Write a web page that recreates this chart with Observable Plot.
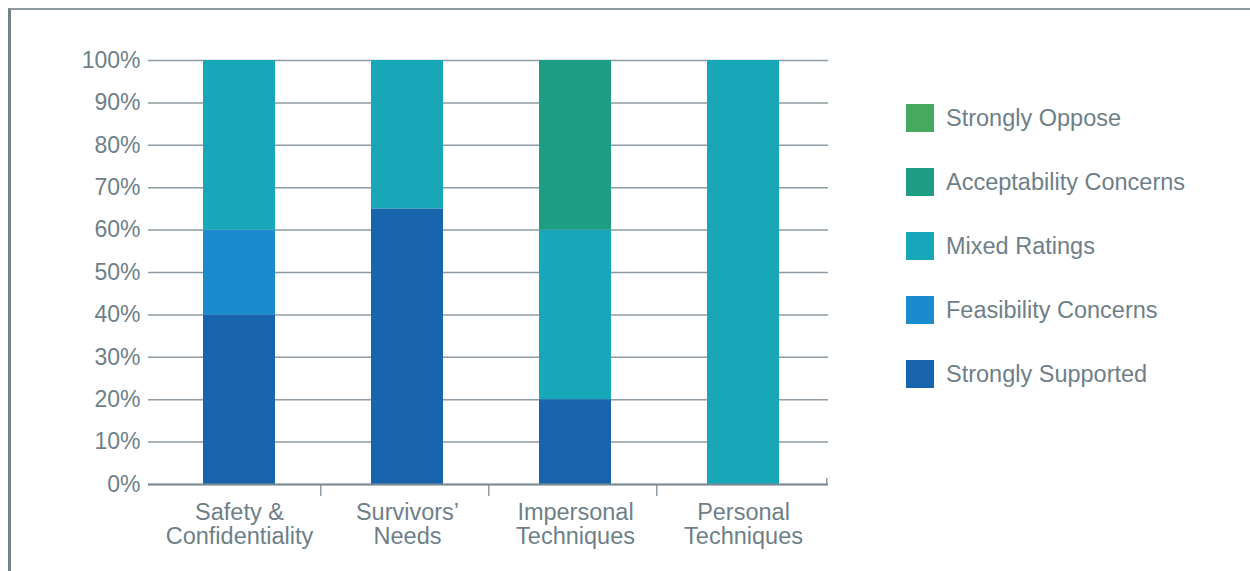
<!DOCTYPE html>
<html>
<head>
<meta charset="utf-8">
<script src="https://cdn.jsdelivr.net/npm/d3@7"></script>
<script src="https://cdn.jsdelivr.net/npm/@observablehq/plot@0.6"></script>
<style>
  html, body { margin: 0; padding: 0; background: #fff; width: 1250px; height: 571px; overflow: hidden; }
  #frame { position: absolute; left: 8px; top: 8px; width: 1400px; height: 700px;
           border-top: 2px solid #8d999f; border-left: 3px solid #74838a; box-sizing: border-box; }
  #chart { position: absolute; left: 0; top: 0; }
  #legend { position: absolute; left: 906px; top: 104px; font-family: "Liberation Sans", Arial, sans-serif;
            font-size: 23.5px; color: #6e7f88; }
  .item { display: flex; align-items: center; height: 28px; margin-bottom: 36px; white-space: nowrap; }
  .sw { width: 28px; height: 28px; margin-right: 12px; flex: none; }
</style>
</head>
<body>
<div id="frame"></div>
<div id="chart"></div>
<div id="legend"></div>
<script>
// ---- data ----
const categories = ["Safety & Confidentiality", "Survivors' Needs", "Impersonal Techniques", "Personal Techniques"];
const categoryLabels = ["Safety &\nConfidentiality", "Survivors’\nNeeds", "Impersonal\nTechniques", "Personal\nTechniques"];
// stacking order bottom -> top
const series = ["Strongly Supported", "Feasibility Concerns", "Mixed Ratings", "Acceptability Concerns", "Strongly Oppose"];
const seriesColors = ["#1865ae", "#1a8bcc", "#17a7b8", "#1d9e84", "#46a95f"];
const stronglySupported = [40, 65, 20, 0];
const feasibilityConcerns = [20, 0, 0, 0];
const mixedRatings = [40, 35, 40, 100];
const acceptabilityConcerns = [0, 0, 40, 0];
const stronglyOppose = [0, 0, 0, 0];
const yTicks = [0, 10, 20, 30, 40, 50, 60, 70, 80, 90, 100];

const seriesValues = [stronglySupported, feasibilityConcerns, mixedRatings, acceptabilityConcerns, stronglyOppose];
const rows = [];
series.forEach((s, si) => categories.forEach((c, ci) => rows.push({category: c, series: s, value: seriesValues[si][ci]})));

const textColor = "#6e7f88";
const gridColor = "#8e9ba2";
const step = (828 - 154) / categories.length;

const plot = Plot.plot({
  width: 840,
  height: 571,
  marginLeft: 148,
  marginRight: 12,
  marginTop: 60,
  marginBottom: 87,
  style: {fontFamily: "'Liberation Sans', Arial, sans-serif", color: textColor, background: "transparent"},
  x: {domain: categories, range: [154, 828], padding: 0, label: null},
  y: {domain: [0, 100], label: null},
  color: {domain: series, range: seriesColors},
  marks: [
    Plot.ruleY(yTicks, {y: d => d, stroke: gridColor, strokeWidth: 1.5}),
    Plot.barY(rows, {x: "category", y: "value", fill: "series", order: series, insetLeft: 48, insetRight: 48}),
    Plot.ruleX([0], {x: () => 148, stroke: gridColor, strokeWidth: 1.5}),
    Plot.ruleX(categories.slice(0, -1), {x: d => d, dx: step / 2 - 3, y1: 0, y2: 0, insetBottom: -12, stroke: gridColor, strokeWidth: 1.5}),
    Plot.ruleX(categories.slice(-1), {x: d => d, dx: step / 2 - 1, y1: 0, y2: 0, insetTop: -6, stroke: gridColor, strokeWidth: 1.5}),
    Plot.ruleY([0], {stroke: "#7d8c94", strokeWidth: 2}),
    Plot.axisY({ticks: yTicks, tickSize: 0, tickPadding: 8, fontSize: 23, tickFormat: d => d + "%", color: textColor, label: null}),
    Plot.axisX({tickSize: 0, tickPadding: 18, fontSize: 23.5, lineHeight: 1.04, color: textColor, label: null,
                tickFormat: (d) => categoryLabels[categories.indexOf(d)]})
  ]
});
document.getElementById("chart").appendChild(plot);

// legend (top to bottom: reverse of stacking)
const legend = document.getElementById("legend");
series.slice().reverse().forEach((s) => {
  const i = series.indexOf(s);
  const item = document.createElement("div");
  item.className = "item";
  const sw = document.createElement("div");
  sw.className = "sw";
  sw.style.background = seriesColors[i];
  const lab = document.createElement("span");
  lab.textContent = s;
  item.appendChild(sw);
  item.appendChild(lab);
  legend.appendChild(item);
});
</script>
</body>
</html>
